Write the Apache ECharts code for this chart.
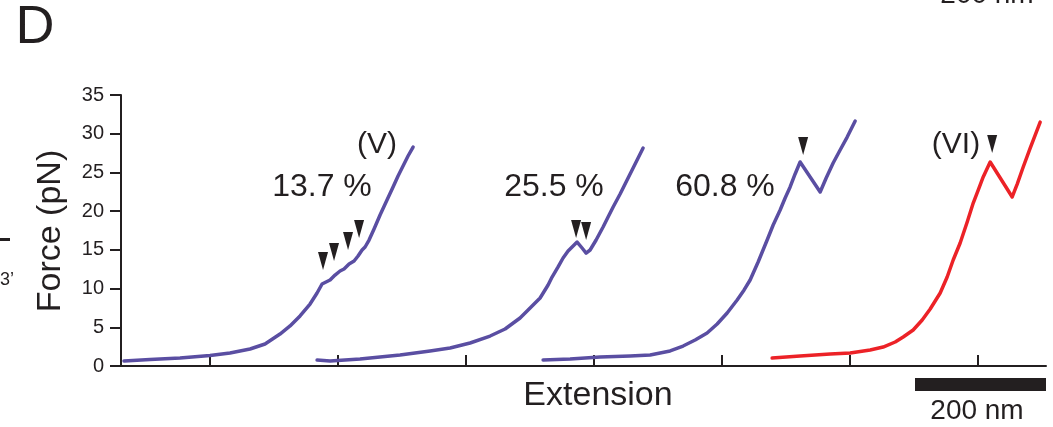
<!DOCTYPE html>
<html>
<head>
<meta charset="utf-8">
<script src="https://cdn.jsdelivr.net/npm/echarts@6.0.0/dist/echarts.min.js"></script>
<style>
html,body{margin:0;padding:0;background:#fff;}
#chart{width:1053px;height:427px;}
</style>
</head>
<body>
<div id="chart"></div>
<script>
// ---- data (extension in nm, force in pN) ----
const extV = [4.7,45.3,92.2,139.1,170.3,201.6,225,248.4,264.1,279.7,295.3,306.3,314.1,320.3,326.6,334.4,342.2,348.4,356.3,364.1,370.3,376.6,381.3,387.5,395.3,404.7,414.1,425,432.8,440.6,448.4,456.3];
const forceV = [0.65,0.84,1.03,1.36,1.68,2.2,2.84,4.13,5.17,6.46,8.0,9.43,10.59,10.85,11.11,11.75,12.27,12.53,13.17,13.56,14.21,14.98,15.37,16.27,17.69,19.5,21.18,23.12,24.54,25.83,27.12,28.28];

const ext25 = [306.3,326.6,373.4,435.9,482.8,514.1,545.3,576.6,600,623.4,639.1,654.7,667.2,673.4,682.8,690.6,698.4,704.7,712.5,720.3,726.6,732.8,742.2,753.1,760.9,768.8,779.7,790.6,800,807.8,815.6];
const force25 = [0.77,0.65,0.9,1.42,1.94,2.32,2.97,3.87,4.78,6.2,7.49,8.78,10.46,11.49,12.79,13.95,14.85,15.37,16.01,15.24,14.59,14.98,16.27,17.95,19.24,20.53,22.21,24.02,25.57,26.86,28.15];

const ext60 = [659.4,701.6,748.4,795.3,826.6,857.8,878.1,896.9,915.6,931.3,946.9,962.5,973.4,982.8,995.3,1009.4,1018.8,1029.7,1037.5,1045.3,1053.1,1060.9,1092.2,1101.6,1112.5,1123.4,1134.4,1146.9];
const force60 = [0.77,0.9,1.16,1.29,1.42,1.94,2.58,3.36,4.26,5.42,6.84,8.52,9.82,11.11,13.43,16.27,18.21,20.15,21.7,23.12,24.8,26.35,22.47,24.28,26.22,27.9,29.57,31.64];

const extVI = [1017.2,1060.9,1107.8,1139.1,1170.3,1190.6,1209.4,1221.9,1237.5,1251.6,1264.1,1279.7,1290.6,1300,1310.9,1321.9,1331.3,1339.1,1346.9,1357.8,1392.2,1400,1409.4,1420.3,1428.1,1435.9];
const forceVI = [1.03,1.29,1.55,1.68,2.07,2.45,3.1,3.75,4.65,5.94,7.36,9.43,11.49,13.69,15.89,18.6,21.05,22.73,24.41,26.35,21.83,23.5,25.7,28.15,29.83,31.51];

// unfolding-event markers (arrowheads)
const markerExt = [315.6,332.8,354.7,371.9,710.9,726.6,1065.6,1360.9];
const markerForce = [13.56,14.72,16.14,17.69,17.69,17.43,28.41,28.67];

// axis ticks
const yTicks = [0,5,10,15,20,25,30,35];
const xTickValues = [139,339,539,739,939,1139,1339];

// texts
const percentLabels = ['13.7 %','25.5 %','60.8 %'];
const constructLabels = ['(V)','(VI)'];
const scaleLabel = '200 nm';
const panelLabel = 'D';
const xName = 'Extension';
const yName = 'Force (pN)';

// ---- build ----
const zip = (a,b) => a.map((v,i)=>[v,b[i]]);
const ink = '#231f20';
const purple = '#5a4ea2';
const red = '#ec2227';
const ff = '"Liberation Sans", Arial, Helvetica, sans-serif';

function txt(text, x, y, size, opts) {
  return Object.assign({
    type:'text', x:x, y:y, silent:true,
    style:{text:text, fill:ink, fontSize:size, fontFamily:ff, align:'center', verticalAlign:'middle'}
  }, opts||{});
}

const chart = echarts.init(document.getElementById('chart'), null, {renderer:'canvas'});
const lineSeries = (data,color) => ({
  type:'line', data:data, showSymbol:false, symbol:'none', smooth:false,
  lineStyle:{color:color, width:3.5, join:'round', cap:'round'}, itemStyle:{color:color}, animation:false, z:2
});

chart.setOption({
  animation:false,
  backgroundColor:'#fff',
  grid:{left:121, right:7, top:95, bottom:61, containLabel:false},
  xAxis:{
    type:'value', min:0, max:1445,
    axisLine:{show:true, onZero:false, lineStyle:{color:ink, width:2}},
    axisTick:{show:true, inside:true, length:11, lineStyle:{color:ink, width:2}, customValues:xTickValues},
    axisLabel:{show:false},
    splitLine:{show:false}
  },
  yAxis:{
    type:'value', min:yTicks[0], max:yTicks[yTicks.length-1], interval:5,
    axisLine:{show:true, lineStyle:{color:ink, width:2}},
    axisTick:{show:true, inside:false, length:11, lineStyle:{color:ink, width:2}},
    axisLabel:{show:true, color:ink, fontSize:20, fontFamily:ff, margin:17},
    splitLine:{show:false}
  },
  series:[
    lineSeries(zip(extV,forceV), purple),
    lineSeries(zip(ext25,force25), purple),
    lineSeries(zip(ext60,force60), purple),
    lineSeries(zip(extVI,forceVI), red),
    {
      type:'scatter', data:zip(markerExt,markerForce), symbol:'triangle', symbolRotate:180,
      symbolSize:[10,18], itemStyle:{color:ink, opacity:1}, z:3, silent:true
    }
  ],
  graphic:[
    txt(panelLabel, 35, 28, 54),
    txt(percentLabels[0], 322, 187, 32),
    txt(percentLabels[1], 554, 187, 32),
    txt(percentLabels[2], 725, 187, 32),
    txt(constructLabels[0], 377, 145, 30),
    txt(constructLabels[1], 956, 145, 30),
    txt(xName, 598, 396, 34),
    txt(yName, 51, 231, 34, {rotation:Math.PI/2}),
    txt(scaleLabel, 977, 411, 28),
    txt(scaleLabel, 987, -5, 28),
    txt('3\u2019', 0, 280, 18, {style:{text:'3\u2019', fill:ink, fontSize:18, fontFamily:ff, align:'left', verticalAlign:'middle'}}),
    {type:'rect', shape:{x:0, y:238, width:10, height:3}, style:{fill:ink}, silent:true},
    {type:'rect', shape:{x:915, y:378, width:131, height:13}, style:{fill:ink}, silent:true}
  ]
});
</script>
</body>
</html>
